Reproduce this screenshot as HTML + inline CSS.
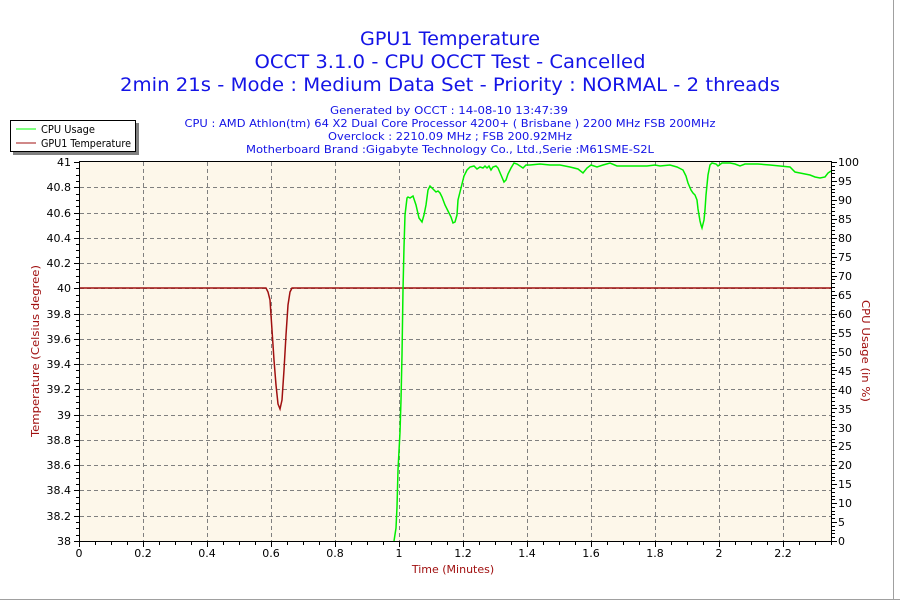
<!DOCTYPE html>
<html><head><meta charset="utf-8"><style>
html,body{margin:0;padding:0;background:#fff;}
svg{display:block;}
text{font-family:"DejaVu Sans","Liberation Sans",sans-serif;}
</style></head><body>
<svg id="s" width="900" height="600" viewBox="0 0 900 600" xmlns="http://www.w3.org/2000/svg">
<rect x="0" y="0" width="900" height="600" fill="#fff"/>
<line x1="893.5" y1="0" x2="893.5" y2="600" stroke="#a0a0a0"/>
<line x1="0" y1="599.5" x2="900" y2="599.5" stroke="#a0a0a0"/>
<g fill="#1414e6" text-anchor="middle">
<text x="450" y="45" font-size="19" textLength="180" lengthAdjust="spacingAndGlyphs">GPU1 Temperature</text>
<text x="450" y="68" font-size="19" textLength="391" lengthAdjust="spacingAndGlyphs">OCCT 3.1.0 - CPU OCCT Test - Cancelled</text>
<text x="450" y="91" font-size="19" textLength="660" lengthAdjust="spacingAndGlyphs">2min 21s - Mode : Medium Data Set - Priority : NORMAL - 2 threads</text>
<text x="449" y="114" font-size="11" textLength="238" lengthAdjust="spacingAndGlyphs">Generated by OCCT : 14-08-10 13:47:39</text>
<text x="450" y="127" font-size="11" textLength="531" lengthAdjust="spacingAndGlyphs">CPU : AMD Athlon(tm) 64 X2 Dual Core Processor 4200+ ( Brisbane ) 2200 MHz FSB 200MHz</text>
<text x="450" y="140" font-size="11" textLength="244" lengthAdjust="spacingAndGlyphs">Overclock : 2210.09 MHz ; FSB 200.92MHz</text>
<text x="450" y="153" font-size="11" textLength="408" lengthAdjust="spacingAndGlyphs">Motherboard Brand :Gigabyte Technology Co., Ltd.,Serie :M61SME-S2L</text>
</g>
<!-- legend -->
<rect x="13" y="123" width="126" height="32" fill="#808080"/>
<rect x="10.5" y="120.5" width="125" height="31" fill="#fff" stroke="#000"/>
<line x1="16" y1="129" x2="36" y2="129" stroke="#00ff00"/>
<line x1="16" y1="143" x2="36" y2="143" stroke="#a01010"/>
<text x="41" y="133" font-size="10.5" textLength="54" lengthAdjust="spacingAndGlyphs">CPU Usage</text>
<text x="41" y="147" font-size="10.5" textLength="90" lengthAdjust="spacingAndGlyphs">GPU1 Temperature</text>
<!-- plot -->
<rect x="79" y="162" width="753" height="379" fill="#fdf7ea"/>
<g id="grid" stroke="#808080" stroke-dasharray="4,3"></g>
<g id="ticks" stroke="#000"></g>
<polyline fill="none" stroke="#a01010" stroke-width="1.5" points="79,288 266,288 268,292 270,300 272,330 274,360 276,385 278,404 280,409 282,400 284,370 286,335 288,305 290,292 292,288 832,288"/>
<polyline fill="none" stroke="#00ee00" stroke-width="1.5" points="394,541 396,528 397,507 398,470 400,432 401,400 402,355 403,290 404,247 405,215 407,198 408,197 410,198 413,196 416,205 419,218 422,222 424,215 426,205 428,190 430,186 433,189 436,192 438,191 440,193 442,197 445,205 448,211 451,217 453,223 455,222 457,215 458,200 462,184 464,176 467,170 470,167 474,166 477,169 480,167 483,168 485,166 487,168 489,166 491,170 493,167 496,166 498,168 501,175 504,182 506,180 508,174 511,168 514,163 517,164 520,166 523,168 526,165 530,165 540,164 550,165 560,165 570,167 578,169 583,173 587,168 591,165 597,167 603,165 610,163 617,166 627,166 637,166 647,166 655,165 660,166 670,165 677,167 683,170 686,176 688,183 691,190 693,193 695,195 697,200 698,209 700,221 701,225 702,228 704,220 705,210 706,195 707,185 708,175 710,165 712,163 716,164 718,166 722,163 730,163 735,164 740,166 745,164 752,164 758,164 770,165 780,166 790,167 795,172 800,173 805,174 810,175 815,177 820,178 825,177 828,173 831,171"/>
<line x1="79" y1="161.5" x2="832" y2="161.5" stroke="#000"/>
<line x1="79" y1="541.5" x2="832" y2="541.5" stroke="#000"/>
<line x1="79.5" y1="161" x2="79.5" y2="542" stroke="#000"/>
<line x1="831.5" y1="161" x2="831.5" y2="542" stroke="#000"/>
<g font-size="11" fill="#000" text-anchor="end">
<text x="71" y="166">41</text><text x="71" y="191">40.8</text><text x="71" y="217">40.6</text><text x="71" y="242">40.4</text><text x="71" y="267">40.2</text><text x="71" y="292">40</text><text x="71" y="318">39.8</text><text x="71" y="343">39.6</text><text x="71" y="368">39.4</text><text x="71" y="393">39.2</text><text x="71" y="419">39</text><text x="71" y="444">38.8</text><text x="71" y="469">38.6</text><text x="71" y="494">38.4</text><text x="71" y="520">38.2</text><text x="71" y="545">38</text>
</g>
<g font-size="11" fill="#000">
<text x="838" y="166">100</text><text x="838" y="185">95</text><text x="838" y="204">90</text><text x="838" y="223">85</text><text x="838" y="242">80</text><text x="838" y="261">75</text><text x="838" y="280">70</text><text x="838" y="299">65</text><text x="838" y="318">60</text><text x="838" y="337">55</text><text x="838" y="356">50</text><text x="838" y="375">45</text><text x="838" y="394">40</text><text x="838" y="413">35</text><text x="838" y="432">30</text><text x="838" y="450">25</text><text x="838" y="469">20</text><text x="838" y="488">15</text><text x="838" y="507">10</text><text x="838" y="526">5</text><text x="838" y="545">0</text>
</g>
<g font-size="11" fill="#000" text-anchor="middle">
<text x="79" y="557">0</text><text x="143" y="557">0.2</text><text x="207" y="557">0.4</text><text x="271" y="557">0.6</text><text x="335" y="557">0.8</text><text x="399" y="557">1</text><text x="463" y="557">1.2</text><text x="527" y="557">1.4</text><text x="591" y="557">1.6</text><text x="655" y="557">1.8</text><text x="719" y="557">2</text><text x="783" y="557">2.2</text>
</g>
<text x="453" y="573" font-size="11" fill="#a01010" text-anchor="middle">Time (Minutes)</text>
<text transform="translate(39,351) rotate(-90)" font-size="11" fill="#a01010" text-anchor="middle" textLength="172" lengthAdjust="spacingAndGlyphs">Temperature (Celsius degree)</text>
<text transform="translate(862,351) rotate(90)" font-size="11" fill="#a01010" text-anchor="middle" textLength="102" lengthAdjust="spacingAndGlyphs">CPU Usage (in %)</text>
</svg>
<script>
var NS="http://www.w3.org/2000/svg";
function L(g,x1,y1,x2,y2){var l=document.createElementNS(NS,"line");l.setAttribute("x1",x1);l.setAttribute("y1",y1);l.setAttribute("x2",x2);l.setAttribute("y2",y2);g.appendChild(l);}
var g=document.getElementById("grid"),t=document.getElementById("ticks");
for(var i=1;i<15;i++){var y=Math.round(541-i*379/15)+0.5;L(g,80,y,831,y);}
for(var i=1;i<=11;i++){var x=79+i*64+0.5;L(g,x,162,x,541);}
for(var i=0;i<=60;i++){var y=Math.round(541-i*379/60)+0.5;L(t,i%4==0?74:76,y,79,y);}
for(var i=0;i<=47;i++){var x=Math.round(79+i*16)+0.5;L(t,x,541,x,i%4==0?547:545);}
for(var i=0;i<=100;i++){var y=Math.round(541-i*3.79)+0.5;L(t,832,y,i%5==0?837:835,y);}
</script>
</body></html>
